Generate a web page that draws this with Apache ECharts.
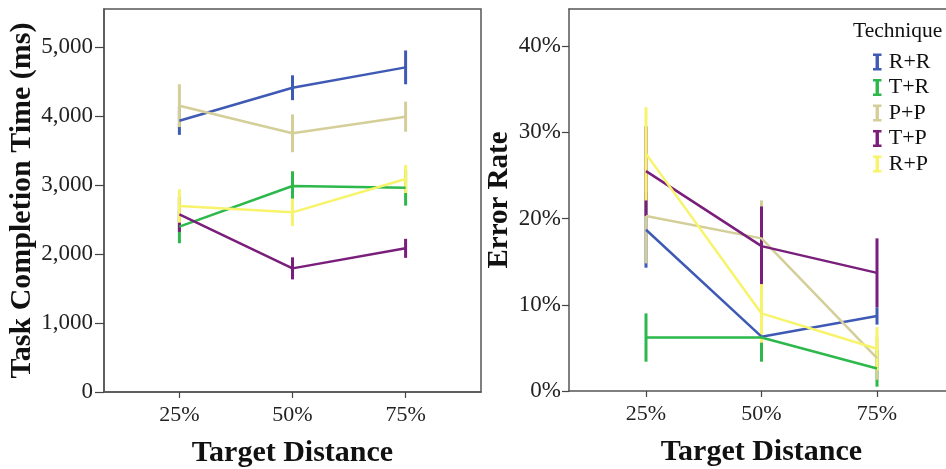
<!DOCTYPE html>
<html>
<head>
<meta charset="utf-8">
<script src="https://cdn.jsdelivr.net/npm/echarts@6/dist/echarts.min.js"></script>
<style>
html,body{margin:0;padding:0;background:#fff;}
#chart{width:946px;height:469px;}
</style>
</head>
<body>
<div id="chart"></div>
<script>
// ---- data ----
var techniques = ['R+R', 'T+R', 'P+P', 'T+P', 'R+P'];
var colors = ['#3F5AB5', '#2DB84C', '#D4CE98', '#7A1E7B', '#F7F36A'];
var xValues = [25, 50, 75];
var xTickLabels = ['25%', '50%', '75%'];
var tctTicks = [0, 1000, 2000, 3000, 4000, 5000];
var errTicks = [0, 10, 20, 30, 40];

// Task completion time (ms): means and error half-widths per technique
var tctMean = [
  [3932, 4410, 4705],
  [2396, 2986, 2961],
  [4150, 3749, 3990],
  [2575, 1792, 2082],
  [2696, 2604, 3087]
];
var tctErr = [
  [205, 180, 245],
  [240, 213, 260],
  [310, 274, 218],
  [254, 160, 138],
  [242, 200, 203]
];
// Error rate (%): means and error half-widths per technique
var errMean = [
  [18.7, 6.3, 8.7],
  [6.2, 6.2, 2.6],
  [20.3, 17.7, 3.8],
  [25.5, 16.8, 13.7],
  [27.5, 9.0, 4.9]
];
var errErr = [
  [4.4, 2.5, 1.0],
  [2.8, 2.8, 2.1],
  [5.5, 4.4, 2.5],
  [5.2, 4.6, 4.0],
  [5.4, 3.4, 2.5]
];

// ---- chart ----
var serif = 'Liberation Serif';
var chart = echarts.init(document.getElementById('chart'));

function errRender(color) {
  return function (params, api) {
    var p1 = api.coord([api.value(0), api.value(1)]);
    var p2 = api.coord([api.value(0), api.value(2)]);
    return {
      type: 'line',
      shape: {x1: p1[0], y1: p1[1], x2: p2[0], y2: p2[1]},
      style: {stroke: color, lineWidth: 3}
    };
  };
}

var series = [];
function addSeries(means, errs, axisIdx) {
  techniques.forEach(function (name, i) {
    series.push({
      name: name,
      type: 'line',
      xAxisIndex: axisIdx,
      yAxisIndex: axisIdx,
      symbol: 'none',
      silent: true,
      lineStyle: {color: colors[i], width: 2.5},
      itemStyle: {color: colors[i]},
      data: xValues.map(function (x, j) { return [x, means[i][j]]; })
    });
    series.push({
      name: name,
      type: 'custom',
      xAxisIndex: axisIdx,
      yAxisIndex: axisIdx,
      silent: true,
      clip: false,
      itemStyle: {color: colors[i]},
      encode: {x: 0, y: [1, 2]},
      renderItem: errRender(colors[i]),
      data: xValues.map(function (x, j) {
        return [x, means[i][j] - errs[i][j], means[i][j] + errs[i][j]];
      })
    });
  });
}
addSeries(tctMean, tctErr, 0);
addSeries(errMean, errErr, 1);

var gapX = 50 / 3;
function xAxisDef(gridIndex) {
  return {
    type: 'value',
    gridIndex: gridIndex,
    min: xValues[0] - gapX,
    max: xValues[2] + gapX,
    name: 'Target Distance',
    nameLocation: 'middle',
    nameGap: 46,
    nameTextStyle: {fontFamily: serif, fontWeight: 'bold', fontSize: 30, color: '#111'},
    axisLine: {show: true, lineStyle: {color: '#555', width: 1.5}},
    axisTick: {show: true, length: 6, customValues: xValues, lineStyle: {color: '#444', width: 1.2}},
    axisLabel: {
      customValues: xValues,
      margin: 12,
      fontFamily: serif, fontSize: 22, color: '#222',
      formatter: function (v) { return xTickLabels[xValues.indexOf(Math.round(v))] || ''; }
    },
    splitLine: {show: false}
  };
}
// top frame line of the right panel (its right edge lies outside the picture)
var topFrameAxis = {
  type: 'value', gridIndex: 1, position: 'top',
  min: xValues[0] - gapX, max: xValues[2] + gapX,
  axisLine: {show: true, lineStyle: {color: '#555', width: 1.5}},
  axisTick: {show: false}, axisLabel: {show: false}, splitLine: {show: false}
};

var option = {
  animation: false,
  backgroundColor: '#fff',
  title: {
    text: 'Technique',
    left: 848,
    top: 15,
    textStyle: {fontFamily: serif, fontWeight: 'normal', fontSize: 21.5, color: '#111'}
  },
  legend: {
    orient: 'vertical',
    left: 868,
    top: 46,
    itemWidth: 9,
    itemHeight: 17,
    itemGap: 3.5,
    icon: 'path://M0,0 L10,0 L10,3 L7,3 L7,17 L10,17 L10,20 L0,20 L0,17 L3,17 L3,3 L0,3 Z',
    data: techniques,
    selectedMode: false,
    textStyle: {fontFamily: serif, fontSize: 22, color: '#111', lineHeight: 20, padding: [0, 0, 0, 2]}
  },
  grid: [
    {left: 104, top: 9, width: 377, height: 383, show: true, borderColor: '#555', borderWidth: 1.5, backgroundColor: 'transparent', outerBoundsMode: 'none', containLabel: false},
    {left: 569, top: 9, width: 385, height: 382, show: false, outerBoundsMode: 'none', containLabel: false}
  ],
  xAxis: [xAxisDef(0), xAxisDef(1), topFrameAxis],
  yAxis: [
    {
      type: 'value', gridIndex: 0, min: 0, max: 5551,
      name: 'Task Completion Time (ms)',
      nameLocation: 'middle', nameGap: 62,
      nameTextStyle: {fontFamily: serif, fontWeight: 'bold', fontSize: 30, color: '#111'},
      axisLine: {show: true, lineStyle: {color: '#555', width: 1.5}},
      axisTick: {show: true, length: 9, customValues: tctTicks, lineStyle: {color: '#444', width: 1.2}},
      axisLabel: {
        customValues: tctTicks, margin: 11,
        fontFamily: serif, fontSize: 23, color: '#222',
        formatter: function (v) { return Math.round(v).toLocaleString('en-US'); }
      },
      splitLine: {show: false}
    },
    {
      type: 'value', gridIndex: 1, min: 0, max: 44.3,
      name: 'Error Rate',
      nameLocation: 'middle', nameGap: 55,
      nameTextStyle: {fontFamily: serif, fontWeight: 'bold', fontSize: 29, color: '#111'},
      axisLine: {show: true, lineStyle: {color: '#555', width: 1.5}},
      axisTick: {show: true, length: 7, customValues: errTicks, lineStyle: {color: '#444', width: 1.2}},
      axisLabel: {
        customValues: errTicks, margin: 8,
        fontFamily: serif, fontSize: 23, color: '#222',
        formatter: function (v) { return Math.round(v) + '%'; }
      },
      splitLine: {show: false}
    }
  ],
  series: series
};
chart.setOption(option);
</script>
</body>
</html>
